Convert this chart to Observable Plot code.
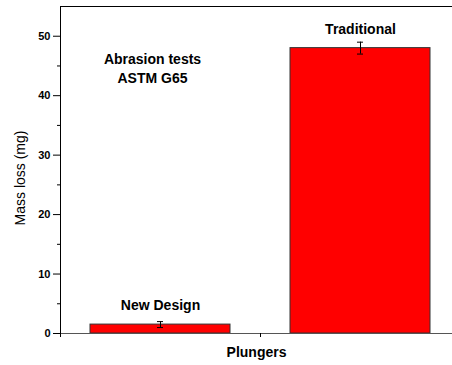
<!DOCTYPE html>
<html>
<head>
<meta charset="utf-8">
<script src="https://cdn.jsdelivr.net/npm/d3@7"></script>
<script src="https://cdn.jsdelivr.net/npm/@observablehq/plot@0.6"></script>
<style>
  html, body { margin: 0; padding: 0; background: #fff; }
  #chart svg { display: block; }
</style>
</head>
<body>
<div id="chart"></div>
<script>
// Abrasion test results (ASTM G65): mean mass loss per plunger design
const categories = ["New Design", "Traditional"];
const massLoss = [1.5, 48.0];       // mg
const massLossErr = [0.5, 1.0];     // ± mg
const yTicks = [0, 10, 20, 30, 40, 50];
const yMinorTicks = [5, 15, 25, 35, 45];
const noteLines = ["Abrasion tests", "ASTM G65"];
const xLabel = "Plungers";
const yLabel = "Mass loss (mg)";

const rows = categories.map((name, i) => ({
  name,
  pos: i + 1,
  value: massLoss[i],
  lo: massLoss[i] - massLossErr[i],
  hi: massLoss[i] + massLossErr[i]
}));

const barHalf = 0.35;
const capHalf = 0.015;
const font = "'Liberation Sans', Arial, sans-serif";

const chart = Plot.plot({
  width: 452,
  height: 365,
  marginLeft: 60,
  marginRight: 0,
  marginTop: 6,
  marginBottom: 32,
  style: { fontFamily: font, background: "#fff", overflow: "visible" },
  x: { domain: [0.5, 2.46] },
  y: { domain: [0, 55] },
  marks: [
    // bars
    Plot.rectY(rows, {
      x1: d => d.pos - barHalf, x2: d => d.pos + barHalf,
      y1: 0, y2: "value",
      fill: "#ff0000", stroke: "#333", strokeWidth: 1
    }),
    // error bars
    Plot.ruleX(rows, { x: "pos", y1: "lo", y2: "hi", stroke: "#000", strokeWidth: 1 }),
    Plot.ruleY(rows, { y: "lo", x1: d => d.pos - capHalf, x2: d => d.pos + capHalf, stroke: "#000" }),
    Plot.ruleY(rows, { y: "hi", x1: d => d.pos - capHalf, x2: d => d.pos + capHalf, stroke: "#000" }),
    // bar names
    Plot.text(rows, {
      x: "pos", y: "value", text: "name", dy: -19,
      fontSize: 14, fontWeight: "bold", fill: "#000"
    }),
    // annotation
    Plot.text([noteLines.join("\n")], {
      frameAnchor: "top-left", dx: 92, dy: 61,
      textAnchor: "middle", lineAnchor: "middle", lineHeight: 1.36,
      fontSize: 14, fontWeight: "bold", fill: "#000"
    }),
    // frame lines
    Plot.ruleY([0], { stroke: "#555" }),
    Plot.frame({ anchor: "top", stroke: "#000" }),
    Plot.frame({ anchor: "left", stroke: "#000" }),
    // y axis: major ticks with labels, minor ticks without
    Plot.axisY(yTicks, {
      tickSize: 7, tickPadding: 3, label: null,
      fontSize: 11, fontWeight: "bold", stroke: "#000"
    }),
    Plot.axisY(yMinorTicks, { tickSize: 3, tickFormat: () => "", label: null, stroke: "#000" }),
    // x axis ticks (no labels)
    Plot.axisX([0.5, 1.5], { tickSize: 4, tickFormat: () => "", label: null, stroke: "#000" }),
    // axis titles
    Plot.text([xLabel], {
      frameAnchor: "bottom", dy: 19, lineAnchor: "middle",
      fontSize: 14, fontWeight: "bold", fill: "#000"
    }),
    Plot.text([yLabel], {
      frameAnchor: "left", dx: -40, dy: 8, rotate: -90,
      textAnchor: "middle", lineAnchor: "middle",
      fontSize: 14, fill: "#000"
    })
  ]
});

document.getElementById("chart").appendChild(chart);
</script>
</body>
</html>
